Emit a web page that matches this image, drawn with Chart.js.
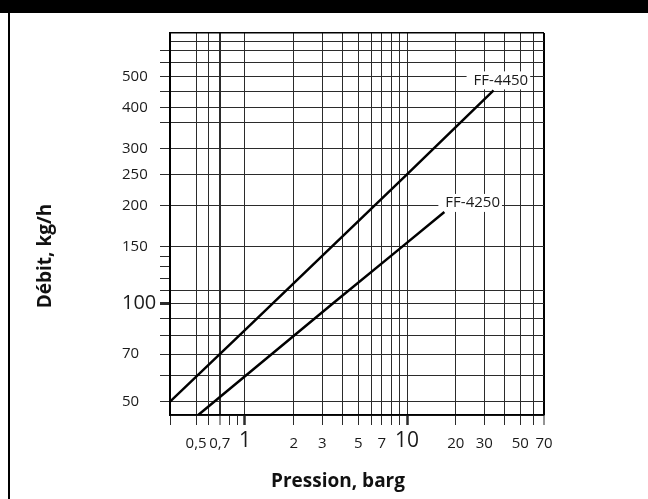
<!DOCTYPE html>
<html>
<head>
<meta charset="utf-8">
<script src="https://cdn.jsdelivr.net/npm/chart.js@4.4.0/dist/chart.umd.min.js"></script>
<style>
  html, body { margin: 0; padding: 0; background: #fff; }
  #wrap { position: relative; width: 648px; height: 499px; }
</style>
</head>
<body>
<div id="wrap"><canvas id="flowChart" width="648" height="499"></canvas></div>
<script>
// axis ranges (log-log)
const xMin = 0.345, xMax = 70;
const yMin = 45.5, yMax = 680;

// every vertical line on the paper, plus the two that are only short ticks
const xGridValues = [0.345, 0.5, 0.6, 0.7, 0.8, 0.9, 1, 2, 3, 4, 5, 6, 7, 8, 9, 10, 20, 30, 40, 50, 60, 70];
const xTickOnly = [0.8, 0.9];
const xLabelValues = [0.5, 0.7, 1, 2, 3, 5, 7, 10, 20, 30, 50, 70];
const xLabelTexts = ['0,5', '0,7', '1', '2', '3', '5', '7', '10', '20', '30', '50', '70'];
const xBigLabels = [1, 10];

const yGridValues = [45.5, 50, 60, 70, 80, 90, 100, 110, 120, 130, 140, 150, 200, 250, 300, 360, 400, 450, 500, 550, 600, 640, 680];
const yTickOnly = [120, 130, 140];
const yNoTick = [45.5, 640, 680];
const yLabelValues = [50, 70, 100, 150, 200, 250, 300, 400, 500];
const yBigLabels = [100];

// the two valve curves
const seriesNames = ['FF-4450', 'FF-4250'];
const ff4450Pressure = [0.345, 1, 10, 34.2];
const ff4450Flow = [50, 83, 250, 453];
const ff4250Pressure = [0.515, 3.47, 9.07, 17];
const ff4250Flow = [45.5, 100, 148, 191.6];

const FONT = "'Open Sans', 'DejaVu Sans', sans-serif";
const GRID = '#2b2b2b';
const NONE = 'rgba(0,0,0,0)';

function toPoints(xs, ys) {
  return xs.map((x, i) => ({ x: x, y: ys[i] }));
}

// black band on top and the thin rule on the left of the sheet
const sheetFrame = {
  id: 'sheetFrame',
  beforeDraw(chart) {
    const ctx = chart.ctx;
    ctx.save();
    ctx.fillStyle = '#fff';
    ctx.fillRect(0, 0, chart.width, chart.height);
    ctx.fillStyle = '#000';
    ctx.fillRect(0, 0, chart.width, 13);
    ctx.fillRect(8, 0, 2, chart.height);
    ctx.restore();
  }
};

// curve names in white boxes near the end of each line
const tagOffsets = [[-20, -10], [1, -9]];
const seriesTags = {
  id: 'seriesTags',
  beforeDatasetsDraw(chart) {
    const ctx = chart.ctx;
    ctx.save();
    ctx.font = '15px ' + FONT;
    ctx.textBaseline = 'middle';
    ctx.textAlign = 'left';
    chart.data.datasets.forEach((ds, i) => {
      const pts = chart.getDatasetMeta(i).data;
      const end = pts[pts.length - 1];
      const tx = end.x + tagOffsets[i][0];
      const ty = end.y + tagOffsets[i][1];
      const w = ctx.measureText(ds.label).width;
      ctx.fillStyle = '#fff';
      ctx.fillRect(tx - 7, ty - 9, w + 9, 18);
      ctx.fillStyle = '#1a1a1a';
      ctx.fillText(ds.label, tx, ty);
    });
    ctx.restore();
  }
};

// axis titles sit off-centre on the original, so they are placed by hand
const axisTitles = {
  id: 'axisTitles',
  afterDraw(chart) {
    const ctx = chart.ctx;
    ctx.save();
    ctx.fillStyle = '#111';
    ctx.font = 'bold 19px ' + FONT;
    ctx.textAlign = 'center';
    ctx.textBaseline = 'middle';
    ctx.fillText('Pression, barg', 338, 482);
    ctx.translate(46, 256);
    ctx.rotate(-Math.PI / 2);
    ctx.fillText('Débit, kg/h', 0, 0);
    ctx.restore();
  }
};

function tickVal(c) {
  return c && c.tick ? c.tick.value : null;
}

new Chart(document.getElementById('flowChart'), {
  type: 'line',
  data: {
    datasets: [
      { label: seriesNames[0], data: toPoints(ff4450Pressure, ff4450Flow) },
      { label: seriesNames[1], data: toPoints(ff4250Pressure, ff4250Flow) }
    ]
  },
  options: {
    responsive: false,
    devicePixelRatio: 1,
    animation: false,
    layout: { padding: { left: 122, top: 33, right: 104, bottom: 0 } },
    elements: {
      line: { borderColor: '#000', borderWidth: 2.5, tension: 0, fill: false },
      point: { radius: 0 }
    },
    plugins: {
      legend: { display: false },
      tooltip: { enabled: false }
    },
    scales: {
      x: {
        type: 'logarithmic',
        bounds: 'data',
        min: xMin,
        max: xMax,
        afterBuildTicks: s => { s.ticks = xGridValues.map(v => ({ value: v })); },
        afterFit: s => { s.height = 84; },
        border: { color: '#000', width: 1.5 },
        grid: {
          color: c => {
            const v = tickVal(c);
            if (xTickOnly.includes(v)) return NONE;
            return v === xMax ? '#000' : GRID;
          },
          lineWidth: c => {
            const v = tickVal(c);
            return (v === xMax || v === 0.7) ? 2 : 1;
          },
          tickColor: GRID,
          tickWidth: c => xBigLabels.includes(tickVal(c)) ? 2.5 : 1,
          tickLength: 10
        },
        ticks: {
          autoSkip: false,
          maxRotation: 0,
          minRotation: 0,
          padding: 10,
          color: '#1a1a1a',
          font: c => xBigLabels.includes(tickVal(c))
            ? { family: FONT, size: 21, lineHeight: 0.55 }
            : { family: FONT, size: 15 },
          callback: v => {
            const i = xLabelValues.indexOf(v);
            return i < 0 ? '' : xLabelTexts[i];
          }
        }
      },
      y: {
        type: 'logarithmic',
        bounds: 'data',
        min: yMin,
        max: yMax,
        afterBuildTicks: s => { s.ticks = yGridValues.map(v => ({ value: v })); },
        afterFit: s => { s.width = 48; },
        border: { color: '#000', width: 2 },
        grid: {
          color: c => {
            const v = tickVal(c);
            if (yTickOnly.includes(v)) return NONE;
            return v === yMax ? '#000' : GRID;
          },
          lineWidth: c => tickVal(c) === yMax ? 1.5 : 1,
          tickColor: c => yNoTick.includes(tickVal(c)) ? NONE : GRID,
          tickWidth: c => yBigLabels.includes(tickVal(c)) ? 3 : 1,
          tickLength: 10
        },
        ticks: {
          autoSkip: false,
          crossAlign: 'far',
          padding: 0,
          color: '#1a1a1a',
          font: c => yBigLabels.includes(tickVal(c))
            ? { family: FONT, size: 20 }
            : { family: FONT, size: 15 },
          callback: v => {
            const i = yLabelValues.indexOf(v);
            return i < 0 ? '' : String(v);
          }
        }
      }
    }
  },
  plugins: [sheetFrame, seriesTags, axisTitles]
});
</script>
</body>
</html>
